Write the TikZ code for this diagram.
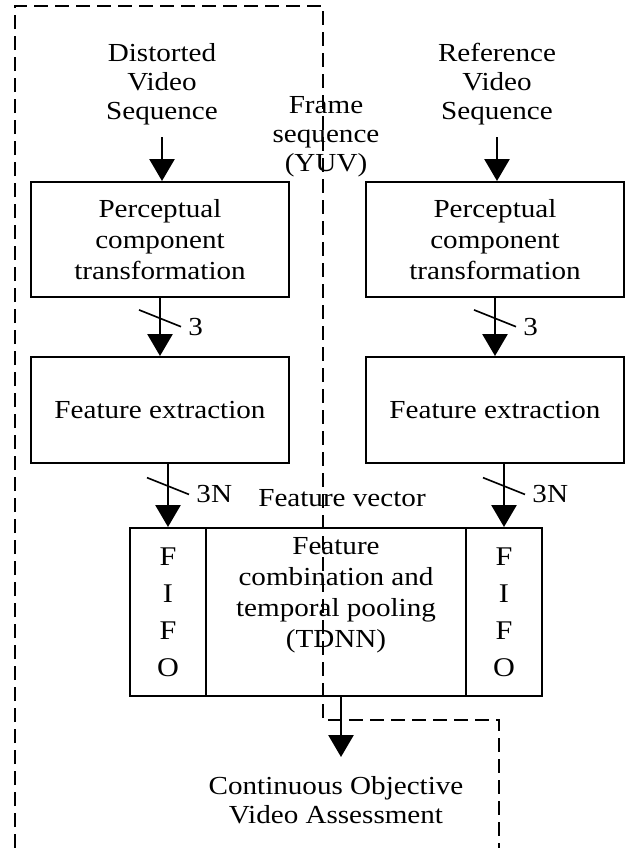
\documentclass[tikz,border=0pt]{standalone}
\usepackage{fontspec}
\setmainfont{Liberation Serif}[FakeStretch=1.12]
\usepackage{tikz}
\usetikzlibrary{arrows.meta}

\begin{document}
\begin{tikzpicture}[x=0.5pt, y=-0.5pt, >={Triangle[width=12.5pt,length=11pt]},
    box/.style={draw, line width=1pt, align=center, inner sep=0pt, font=\fontsize{13}{15.5}\selectfont},
    txt/.style={align=center, font=\fontsize{13}{14.5}\selectfont},
    arr/.style={->, line width=1.4pt},
    slash/.style={line width=0.8pt}]
    \useasboundingbox (0,0) rectangle (627,848);

    % Frame sequence border (dashed)
    \draw[line width=1pt, dash pattern=on 7pt off 3.5pt]
        (15,848) -- (15,6) -- (323,6) -- (323,720) -- (499,720) -- (499,848);
    \node (frame) at (326,137) [txt] {Frame\\sequence\\(YUV)};

    % Inputs
    \node (dist) at (162,84) [txt, inner sep=6pt] {Distorted\\Video\\Sequence};
    \node (refv) at (497,84) [txt, inner sep=6pt] {Reference\\Video\\Sequence};

    % Perceptual transformation and feature extraction
    \node (pctL) at (160,239.5) [box, minimum width=129pt, minimum height=57.5pt] {Perceptual\\component\\transformation};
    \node (pctR) at (495,239.5) [box, minimum width=129pt, minimum height=57.5pt] {Perceptual\\component\\transformation};
    \node (featL) at (160,410) [box, minimum width=129pt, minimum height=53pt] {Feature extraction};
    \node (featR) at (495,410) [box, minimum width=129pt, minimum height=53pt] {Feature extraction};

    % FIFOs and TDNN
    \node (fifoL) at (168,612) [box, minimum width=38pt, minimum height=84pt, font=\fontsize{13.5}{18.5}\selectfont] {F\\I\\F\\O};
    \node (comb) at (336,612) [box, minimum width=130pt, minimum height=84pt] {};
    \node (fifoR) at (504,612) [box, minimum width=38pt, minimum height=84pt, font=\fontsize{13.5}{18.5}\selectfont] {F\\I\\F\\O};
    \node (combtxt) at (336,595) [txt, font=\fontsize{13}{15.5}\selectfont] {Feature\\combination and\\temporal pooling\\(TDNN)};

    \node (fvec) at (342,498) [txt] {Feature vector};
    \node (out) at (336,800) [txt] {Continuous Objective\\Video Assessment};
    \coordinate (tip) at (341,757);

    % Connections
    \draw[arr] (dist.south) -- (dist.south |- pctL.north);
    \draw[arr] (refv.south) -- (refv.south |- pctR.north);
    \draw[arr] (pctL) -- coordinate[pos=.35] (s1) (featL);
    \draw[arr] (pctR) -- coordinate[pos=.35] (s2) (featR);
    \draw[arr] (featL.south -| fifoL.north) -- coordinate[pos=.35] (s3) (fifoL.north);
    \draw[arr] (featR.south -| fifoR.north) -- coordinate[pos=.35] (s4) (fifoR.north);
    \draw[arr] (comb.south -| tip) -- (tip);

    % Bus widths
    \draw[slash] ([shift={(-10.5pt,4.2pt)}]s1) -- ([shift={(10.5pt,-4.2pt)}]s1) node[right, txt] {3};
    \draw[slash] ([shift={(-10.5pt,4.2pt)}]s2) -- ([shift={(10.5pt,-4.2pt)}]s2) node[right, txt] {3};
    \draw[slash] ([shift={(-10.5pt,4.2pt)}]s3) -- ([shift={(10.5pt,-4.2pt)}]s3) node[right, txt] {3N};
    \draw[slash] ([shift={(-10.5pt,4.2pt)}]s4) -- ([shift={(10.5pt,-4.2pt)}]s4) node[right, txt] {3N};
\end{tikzpicture}
\end{document}
